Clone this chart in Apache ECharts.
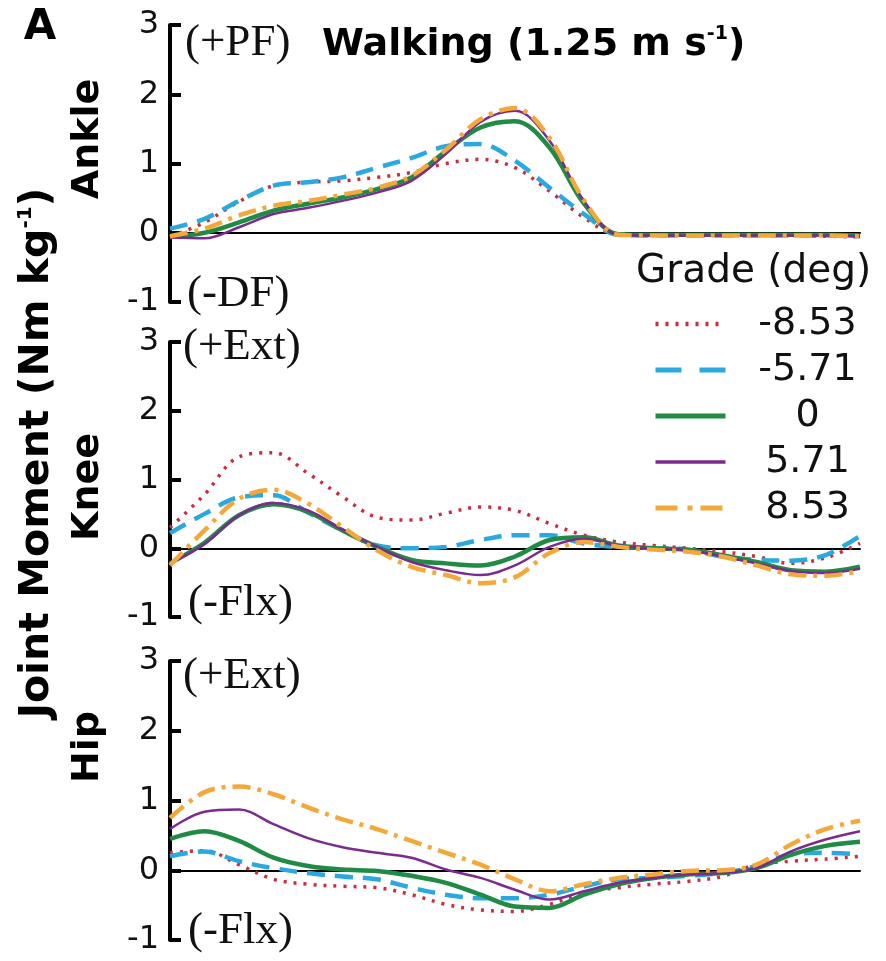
<!DOCTYPE html>
<html><head><meta charset="utf-8">
<script src="https://cdn.jsdelivr.net/npm/echarts@6/dist/echarts.min.js"></script>
<style>html,body{margin:0;padding:0;background:#fff}#c{width:886px;height:961px}</style>
</head><body><div id="c"></div><script>
// ---- data (percent of gait cycle vs joint moment, Nm/kg) ----
const pct = [0,5,10,15,20,25,30,35,40,45,50,55,60,65,70,75,80,85,90,95,100];
const grades = ['-8.53','-5.71','0','5.71','8.53'];
const yTicks = [-1,0,1,2,3];

const ankleM853 = [-0.06,0.15,0.45,0.68,0.73,0.75,0.80,0.87,1.00,1.06,0.94,0.60,0.22,-0.03,-0.03,-0.03,-0.03,-0.04,-0.04,-0.05,-0.06];
const ankleM571 = [0.06,0.20,0.46,0.68,0.73,0.80,0.94,1.08,1.25,1.28,1.04,0.65,0.27,-0.03,-0.04,-0.04,-0.04,-0.04,-0.04,-0.04,-0.05];
const ankle0    = [-0.06,0.00,0.15,0.32,0.42,0.51,0.63,0.80,1.18,1.52,1.61,1.23,0.42,-0.02,-0.03,-0.03,-0.03,-0.03,-0.03,-0.03,-0.04];
const ankle571  = [-0.07,-0.08,0.08,0.27,0.36,0.46,0.58,0.75,1.14,1.60,1.76,1.33,0.46,-0.03,-0.04,-0.04,-0.04,-0.04,-0.04,-0.04,-0.05];
const ankle853  = [-0.05,0.06,0.25,0.39,0.46,0.55,0.65,0.82,1.20,1.64,1.80,1.37,0.47,-0.03,-0.04,-0.04,-0.04,-0.04,-0.04,-0.04,-0.05];

const kneeM853 = [0.30,0.78,1.33,1.39,1.09,0.75,0.45,0.41,0.51,0.60,0.55,0.36,0.19,0.09,0.04,0.00,-0.05,-0.12,-0.22,-0.14,0.07];
const kneeM571 = [0.22,0.50,0.74,0.77,0.52,0.26,0.04,0.00,0.02,0.12,0.19,0.19,0.07,0.02,0.00,-0.02,-0.12,-0.17,-0.18,-0.10,0.18];
const knee0    = [-0.22,0.08,0.48,0.64,0.53,0.26,0.02,-0.17,-0.22,-0.25,-0.12,0.12,0.16,0.04,0.00,-0.02,-0.10,-0.20,-0.32,-0.34,-0.27];
const knee571  = [-0.22,0.06,0.48,0.66,0.55,0.27,0.02,-0.20,-0.32,-0.39,-0.25,0.02,0.14,0.04,0.00,-0.03,-0.12,-0.22,-0.33,-0.36,-0.30];
const knee853  = [-0.25,0.26,0.72,0.85,0.65,0.31,-0.03,-0.27,-0.39,-0.51,-0.42,-0.07,0.09,0.02,-0.02,-0.05,-0.12,-0.25,-0.38,-0.40,-0.33];

const hipM853 = [0.25,0.28,0.08,-0.13,-0.20,-0.23,-0.25,-0.35,-0.49,-0.57,-0.59,-0.49,-0.32,-0.25,-0.20,-0.16,-0.09,0.08,0.13,0.16,0.20];
const hipM571 = [0.20,0.27,0.13,0.03,-0.04,-0.09,-0.13,-0.25,-0.35,-0.40,-0.40,-0.35,-0.23,-0.13,-0.11,-0.08,-0.04,0.06,0.23,0.25,0.23];
const hip0    = [0.45,0.56,0.42,0.18,0.06,0.01,-0.01,-0.08,-0.18,-0.35,-0.52,-0.54,-0.35,-0.20,-0.11,-0.06,-0.04,0.03,0.22,0.35,0.41];
const hip571  = [0.59,0.84,0.87,0.66,0.46,0.33,0.25,0.18,0.01,-0.11,-0.28,-0.42,-0.30,-0.18,-0.11,-0.06,-0.04,0.03,0.27,0.44,0.56];
const hip853  = [0.75,1.12,1.20,1.09,0.90,0.73,0.59,0.42,0.25,0.08,-0.13,-0.30,-0.20,-0.11,-0.06,-0.01,0.00,0.08,0.37,0.59,0.71];

const joints = ['Ankle','Knee','Hip'];
const jointData = [
  [ankleM853, ankleM571, ankle0, ankle571, ankle853],
  [kneeM853, kneeM571, knee0, knee571, knee853],
  [hipM853, hipM571, hip0, hip571, hip853]
];
const posLabels = ['(+PF)','(+Ext)','(+Ext)'];
const negLabels = ['(-DF)','(-Flx)','(-Flx)'];

// ---- styles ----
const SANS = 'DejaVu Sans';
const SERIF = 'Liberation Serif';
const lineStyles = [
  {color:'#cf2a3e', type:[3,7], width:3.5},
  {color:'#29a9e0', type:[18,10], width:4.5},
  {color:'#1f8b45', type:'solid', width:4.5},
  {color:'#7b2b8f', type:'solid', width:2.5},
  {color:'#f4a83a', type:[18,7,4,7], width:4.5}
];
const legendLine = [
  {type:[3,7], width:4.5},
  {type:[26,18], width:5},
  {type:'solid', width:5},
  {type:'solid', width:3.5},
  {type:[22,10,5,8], width:5}
];
const grids = [
  {left:170, right:26, top:25, height:277},
  {left:170, right:26, top:342, height:275},
  {left:170, right:26, top:661, height:279}
];

const xAxes = [], yAxes = [], series = [];
grids.forEach((g, gi) => {
  xAxes.push({
    type:'value', gridIndex:gi, min:0, max:100,
    axisLine:{show:true, onZero:true, lineStyle:{color:'#000', width:2}},
    axisTick:{show:false}, axisLabel:{show:false}, splitLine:{show:false}
  });
  yAxes.push({
    type:'value', gridIndex:gi, min:yTicks[0], max:yTicks[yTicks.length-1], interval:1,
    axisLine:{show:true, onZero:false, lineStyle:{color:'#000', width:4}},
    axisTick:{show:true, inside:true, length:11, lineStyle:{color:'#000', width:4}},
    axisLabel:{show:true, fontFamily:SANS, fontSize:32, color:'#111', margin:11},
    splitLine:{show:false}
  });
  jointData[gi].forEach((arr, si) => {
    series.push({
      type:'line', name:grades[si], xAxisIndex:gi, yAxisIndex:gi,
      data: pct.map((p, k) => [p, arr[k]]),
      smooth:0.35, showSymbol:false, symbol:'none',
      lineStyle:{color:lineStyles[si].color, type:lineStyles[si].type, width:lineStyles[si].width},
      itemStyle:{color:lineStyles[si].color},
      z: 3 + si
    });
  });
});

const annX = [185, 183, 183];
const posY = [43, 347, 676];
const negX = [187, 188, 188];
const negY = [294, 603, 931];
const graphic = [
  {type:'text', x:40, y:28, style:{text:'A', fontFamily:SANS, fontWeight:'bold', fontSize:42, fill:'#000', align:'center', verticalAlign:'middle'}},
  {type:'text', x:322, y:45, style:{
    text:'{a|Walking (1.25 m s}{s|-1}{a|)}', align:'left', verticalAlign:'middle',
    rich:{a:{fontFamily:SANS, fontWeight:'bold', fontSize:38, lineHeight:40, fill:'#000'},
          s:{fontFamily:SANS, fontWeight:'bold', fontSize:19, lineHeight:20, verticalAlign:'top', fill:'#000'}}
  }},
  {type:'text', x:37, y:453, rotation:Math.PI/2, style:{
    text:'{a|Joint Moment (Nm kg}{s|-1}{a|)}', align:'center', verticalAlign:'middle',
    rich:{a:{fontFamily:SANS, fontWeight:'bold', fontSize:41, lineHeight:42, fill:'#000'},
          s:{fontFamily:SANS, fontWeight:'bold', fontSize:20, lineHeight:20, verticalAlign:'top', fill:'#000'}}
  }},
  {type:'text', x:88, y:139, rotation:Math.PI/2, style:{text:joints[0], fontFamily:SANS, fontWeight:'bold', fontSize:38, fill:'#000', align:'center', verticalAlign:'middle'}},
  {type:'text', x:88, y:487, rotation:Math.PI/2, style:{text:joints[1], fontFamily:SANS, fontWeight:'bold', fontSize:38, fill:'#000', align:'center', verticalAlign:'middle'}},
  {type:'text', x:88, y:747, rotation:Math.PI/2, style:{text:joints[2], fontFamily:SANS, fontWeight:'bold', fontSize:38, fill:'#000', align:'center', verticalAlign:'middle'}},
  {type:'text', x:636, y:272, style:{text:'Grade (deg)', fontFamily:SANS, fontSize:39, fill:'#111', align:'left', verticalAlign:'middle'}}
];
for (let i = 0; i < 3; i++) {
  graphic.push({type:'text', x:annX[i], y:posY[i], style:{text:posLabels[i], fontFamily:SERIF, fontSize:45, fill:'#111', align:'left', verticalAlign:'middle'}});
  graphic.push({type:'text', x:negX[i], y:negY[i], style:{text:negLabels[i], fontFamily:SERIF, fontSize:45, fill:'#111', align:'left', verticalAlign:'middle'}});
}

const chart = echarts.init(document.getElementById('c'), null, {renderer:'canvas'});
chart.setOption({
  animation:false,
  backgroundColor:'#fff',
  grid: grids,
  xAxis: xAxes,
  yAxis: yAxes,
  legend:{
    data: grades.map((g, i) => ({name:g, lineStyle:{type:legendLine[i].type, width:legendLine[i].width}})),
    orient:'vertical', left:653, top:305, padding:0,
    itemWidth:70, itemHeight:20, itemGap:8, selectedMode:false,
    itemStyle:{opacity:0, color:'rgba(0,0,0,0)', borderWidth:0},
    formatter: n => '{t|' + n + '}',
    textStyle:{rich:{t:{width:154, align:'center', fontFamily:SANS, fontSize:38, lineHeight:40, color:'#111'}}}
  },
  graphic: graphic,
  series: series
});
</script></body></html>
